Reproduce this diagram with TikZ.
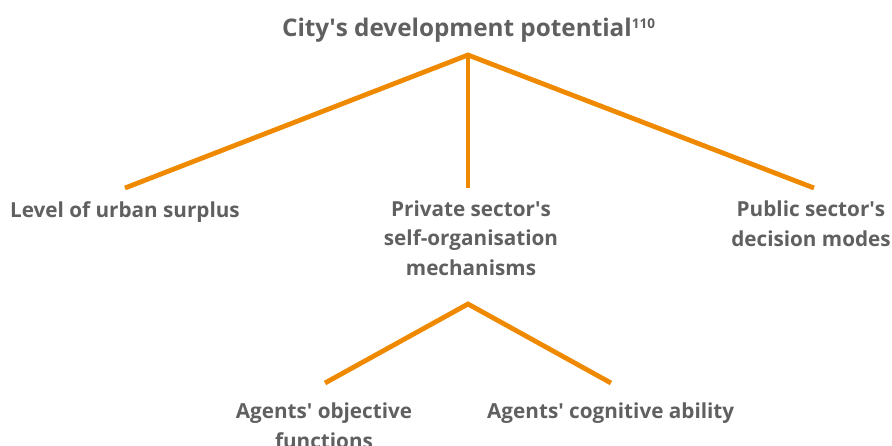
\documentclass[tikz,border=0pt]{standalone}
\usepackage{fontspec}
\setmainfont{Open Sans}
\definecolor{txtgrey}{HTML}{606060}
\definecolor{branch}{HTML}{EF8A00}
\newcommand{\apos}{\textquotesingle}
\begin{document}
\begin{tikzpicture}[x=1pt,y=-1pt,
  lbl/.style={font=\bfseries\fontsize{20.7}{29.5}\selectfont, text=txtgrey, inner sep=0pt, align=center},
  titl/.style={font=\bfseries\fontsize{24.3}{28}\selectfont, text=txtgrey, inner sep=0pt},
  twig/.style={draw=branch, line width=4.8pt, line join=miter}]
\useasboundingbox (0,0) rectangle (892,445);
\node[titl, anchor=base] (title) at (468.5,36) {City\apos s development potential\raisebox{7.5pt}{\fontsize{13.5}{13.5}\selectfont 110}};
\coordinate (a1) at (468,55);
\coordinate (l1) at (125,188);
\coordinate (m1) at (468,188);
\coordinate (r1) at (814,188);
\draw[twig] (l1) -- (a1) -- (r1);
\draw[twig] (a1) -- (m1);
\node[lbl, anchor=base west] (level) at (10,217) {Level of urban surplus};
\node[lbl, anchor=base] (priv) at (471,275) {Private sector\apos s\\self-organisation\\mechanisms};
\node[lbl, anchor=base] (pub) at (811,246) {Public sector\apos s\\decision modes};
\coordinate (a2) at (468,304);
\coordinate (l2) at (325,383);
\coordinate (r2) at (611,383);
\draw[twig] (l2) -- (a2) -- (r2);
\node[lbl, anchor=base] (obj) at (324,448) {Agents\apos{} objective\\functions};
\node[lbl, anchor=base west] (cog) at (487,418) {Agents\apos{} cognitive ability};
\end{tikzpicture}
\end{document}
